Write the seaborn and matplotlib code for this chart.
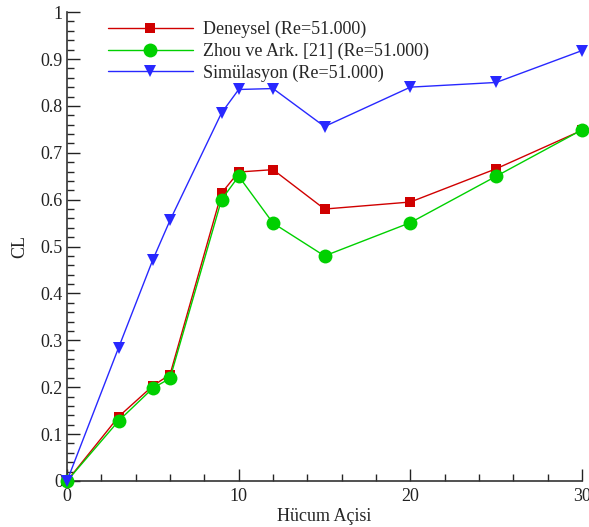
import matplotlib
matplotlib.use("Agg")
import matplotlib.pyplot as plt
import seaborn as sns
import pandas as pd
from matplotlib.ticker import MultipleLocator, FuncFormatter

# Data
aoa = [0, 3, 5, 6, 9, 10, 12, 15, 20, 25, 30]
cl_deneysel = [0.0, 0.137, 0.203, 0.227, 0.614, 0.659, 0.664, 0.580, 0.595, 0.666, 0.748]
cl_zhou = [0.0, 0.128, 0.198, 0.219, 0.600, 0.650, 0.550, 0.480, 0.551, 0.650, 0.749]
cl_sim = [0.0, 0.284, 0.472, 0.556, 0.785, 0.835, 0.837, 0.756, 0.840, 0.850, 0.918]
labels = ["Deneysel (Re=51.000)", "Zhou ve Ark. [21] (Re=51.000)", "Simülasyon (Re=51.000)"]

sns.set_style("ticks")
plt.rcParams['font.family'] = ['Liberation Serif', 'DejaVu Serif']

fig = plt.figure(figsize=(5.89, 5.27), dpi=100)
ax = fig.add_axes([0.1138, 0.0873, 0.8744, 0.8897])

styles = [
    (cl_deneysel, "#D00000", "s", 7.5),
    (cl_zhou, "#00D000", "o", 10),
    (cl_sim, "#2828FF", "v", 8.5),
]
for (vals, col, mk, ms), lab in zip(styles, labels):
    df = pd.DataFrame({"aoa": aoa, "cl": vals})
    sns.lineplot(data=df, x="aoa", y="cl", ax=ax, color=col, marker=mk,
                 markersize=ms, markeredgewidth=0, linewidth=1.0, label=lab,
                 clip_on=False, zorder=3)

ax.set_xlim(0, 30)
ax.set_ylim(0, 1)
ax.xaxis.set_major_locator(MultipleLocator(10))
ax.xaxis.set_minor_locator(MultipleLocator(2))
ax.yaxis.set_major_locator(MultipleLocator(0.1))
ax.yaxis.set_minor_locator(MultipleLocator(0.02))
ax.yaxis.set_major_formatter(FuncFormatter(lambda v, p: ("%g" % round(v, 2))))
ax.xaxis.set_major_formatter(FuncFormatter(lambda v, p: "%g" % v))

ax.tick_params(which='major', direction='in', length=9, width=1.0, labelsize=13, colors='#222222', pad=4)
ax.tick_params(which='minor', direction='in', length=5, width=1.0)
ax.tick_params(axis='x', pad=5)
ax.tick_params(axis='y', pad=3)

for s in ['top', 'right']:
    ax.spines[s].set_visible(False)
for s in ['left', 'bottom']:
    ax.spines[s].set_linewidth(1.2)
    ax.spines[s].set_color('#333333')

ax.set_xlabel("Hücum Açisi", fontsize=13)
ax.set_ylabel("CL", fontsize=13)
ax.xaxis.set_label_coords(0.5, -0.058)
ax.yaxis.set_label_coords(-0.075, 0.5)

ax.legend(loc='upper left', bbox_to_anchor=(0.065, 0.997), frameon=False,
          fontsize=13, handlelength=4.7, handletextpad=0.6, labelspacing=0.25,
          borderaxespad=0.0)

fig.savefig("out.png", dpi=100)
